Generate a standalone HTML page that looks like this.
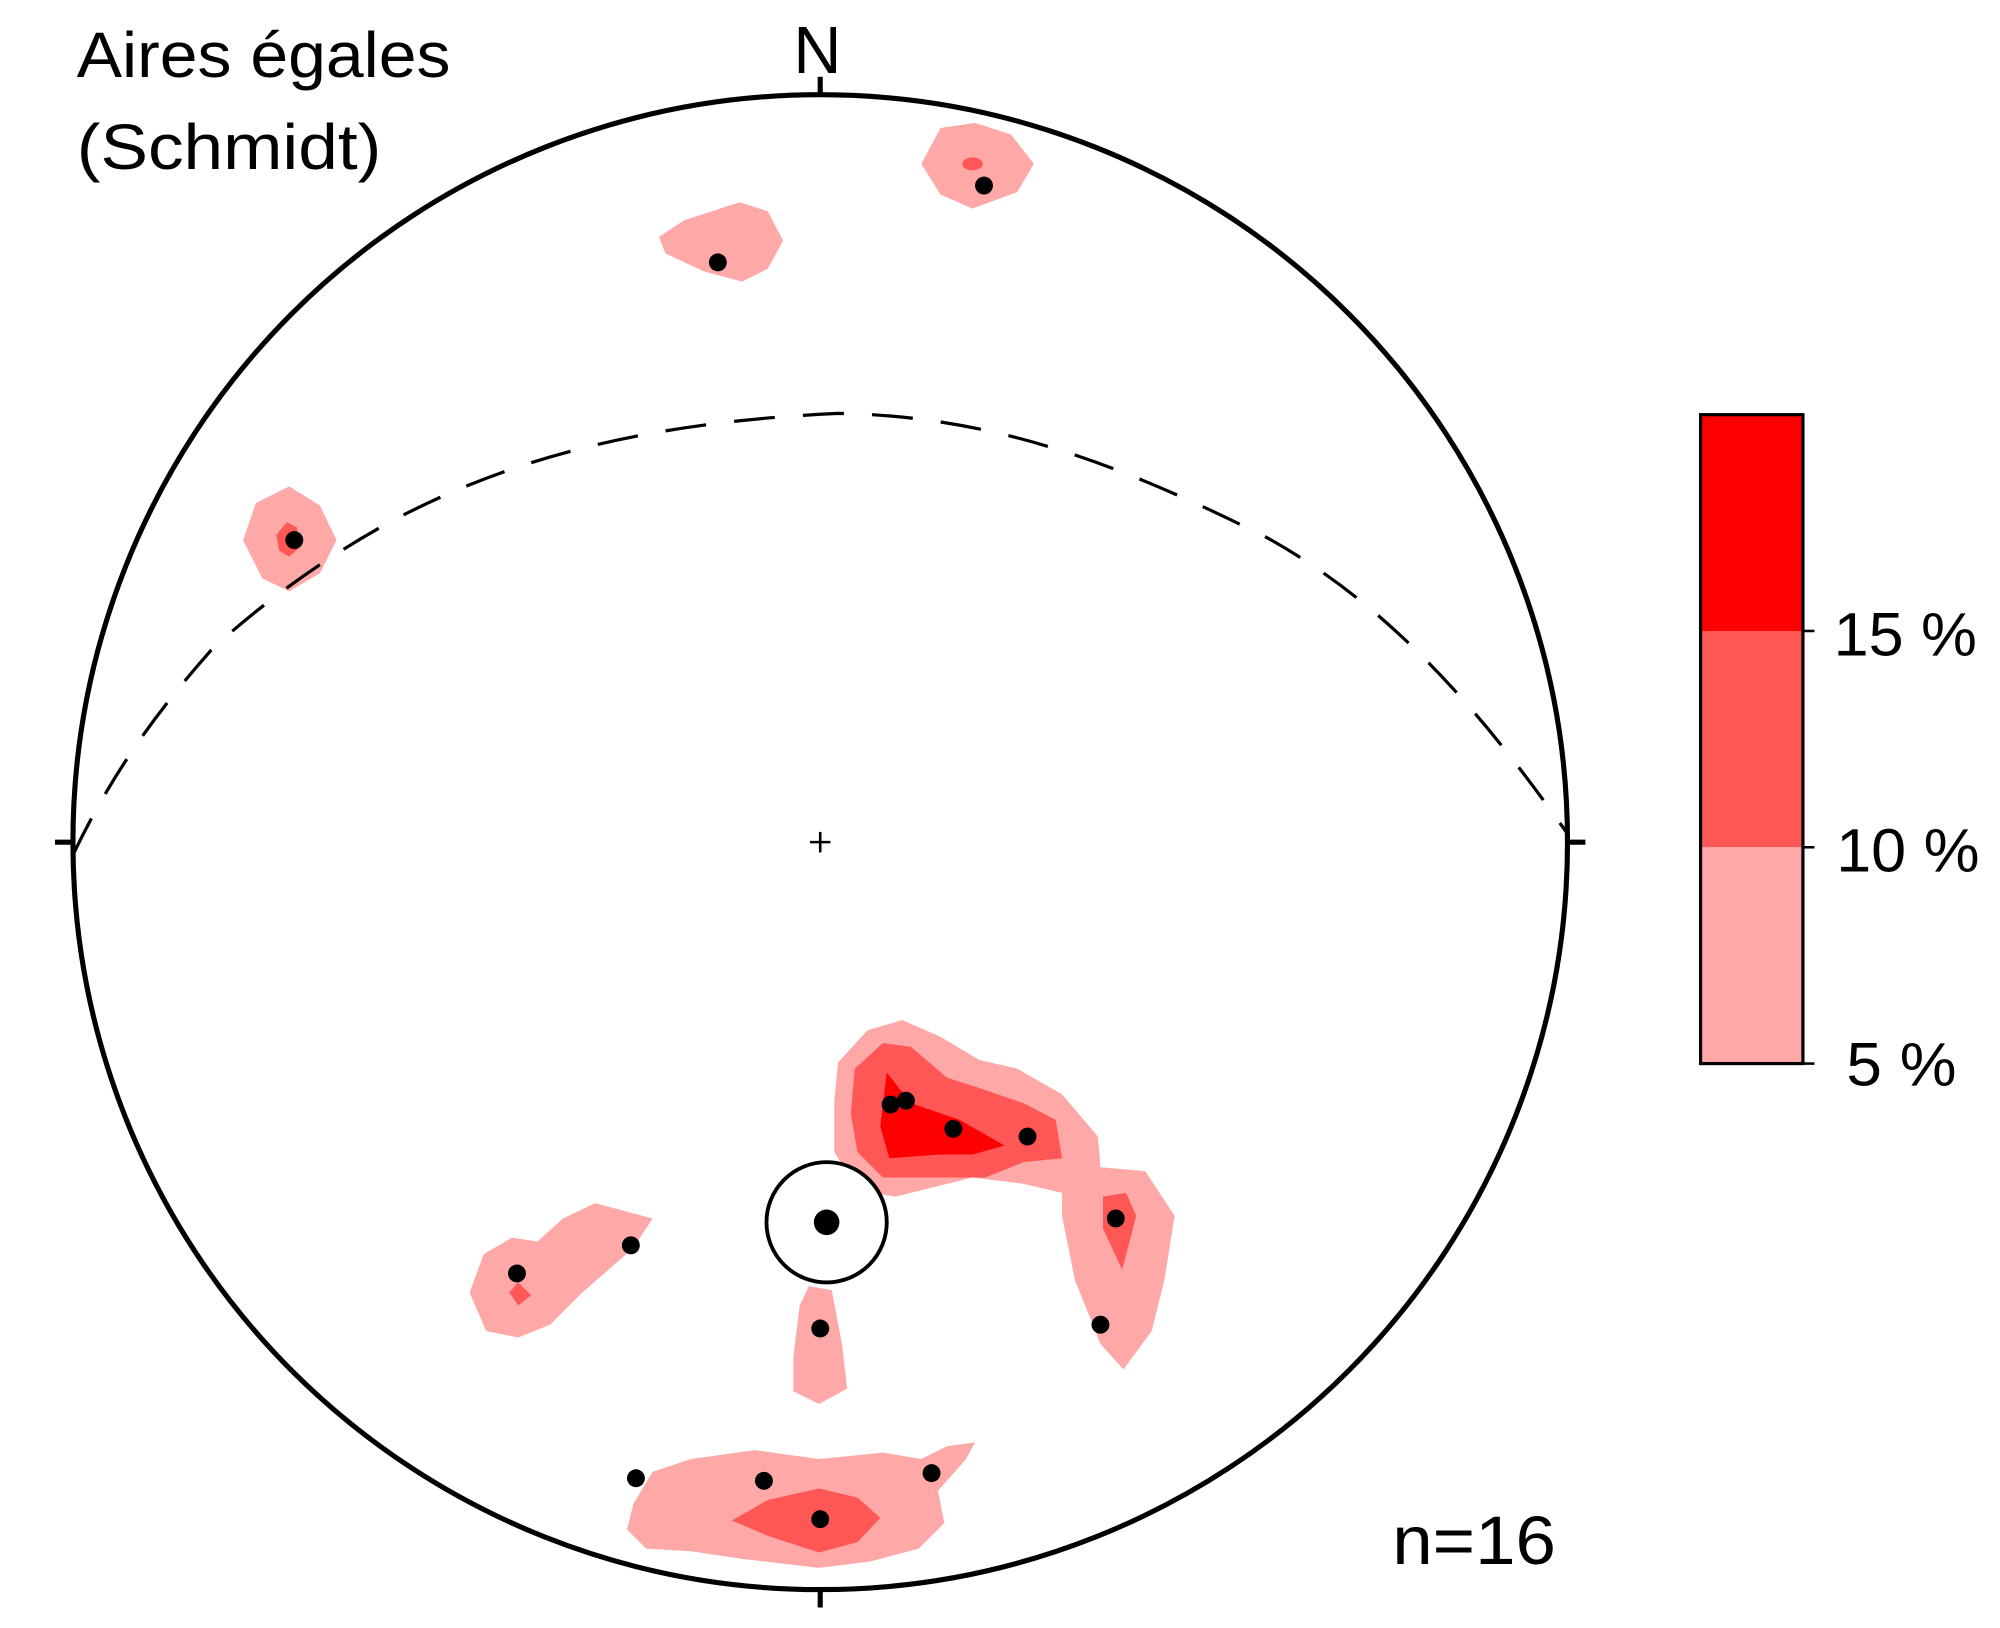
<!DOCTYPE html>
<html><head><meta charset="utf-8"><style>
html,body{margin:0;padding:0;background:#fff;}
svg{display:block;}
text{font-family:"Liberation Sans","DejaVu Sans",sans-serif;fill:#000;}
</style></head><body>
<svg width="2000" height="1628" viewBox="0 0 1563 1272" preserveAspectRatio="none" xmlns="http://www.w3.org/2000/svg">
<rect width="1563" height="1272" fill="#fff"/>
<g stroke="none">
<polygon fill="#ffa8a8" points="720,128 735,100 762,96 790,105 808,128 795,150 760,163 735,152"/>
<ellipse cx="760" cy="128" rx="8" ry="5" fill="#ff5656"/>
<polygon fill="#ffa8a8" points="515,185 535,172 578,158 600,165 612,188 600,210 580,220 550,212 520,198"/>
<polygon fill="#ffa8a8" points="190,422 200,393 226,380 250,395 263,422 250,448 226,462 205,452"/>
<polygon fill="#ff5656" points="216,418 224,408 232,412 234,428 226,435 218,430"/>
<polygon fill="#ffa8a8" points="655,830 678,805 705,797 735,810 765,828 795,835 830,855 858,888 860,912 895,915 918,950 910,1000 900,1040 878,1070 860,1050 840,1000 830,950 830,932 800,925 760,920 700,935 670,930 652,900 652,860"/>
<polygon fill="#ff5656" points="668,835 690,815 712,818 740,842 765,850 800,862 825,875 830,905 800,908 770,920 720,920 690,920 670,900 665,870"/>
<polygon fill="#ff0000" points="693,838 712,862 750,875 785,895 760,902 735,902 695,905 688,880"/>
<polygon fill="#ff5656" points="862,935 880,932 888,950 877,992 862,960"/>
<polygon fill="#ffa8a8" points="367,1010 378,980 400,967 420,970 440,952 465,940 510,952 495,975 455,1010 430,1035 405,1045 380,1040"/>
<polygon fill="#ff5656" points="398,1010 405,1002 415,1012 405,1020"/>
<polygon fill="#ffa8a8" points="625,1020 632,1005 650,1008 658,1050 662,1085 640,1097 620,1087 620,1060"/>
<polygon fill="#ffa8a8" points="495,1175 510,1150 540,1140 590,1133 640,1140 690,1135 720,1140 740,1130 762,1127 755,1140 733,1165 738,1190 718,1210 680,1220 640,1225 580,1218 540,1212 505,1210 490,1195"/>
<polygon fill="#ff5656" points="572,1188 600,1172 640,1163 670,1170 688,1186 670,1205 640,1213 600,1200"/>
</g>
<circle cx="641" cy="658" r="584" fill="none" stroke="#000" stroke-width="4"/>
<g stroke="#000" stroke-width="4">
<line x1="641" y1="60" x2="641" y2="75"/>
<line x1="641" y1="1241" x2="641" y2="1256"/>
<line x1="43" y1="658" x2="57" y2="658"/>
<line x1="1225" y1="658" x2="1239" y2="658"/>
</g>
<g stroke="#000" stroke-width="2">
<line x1="633" y1="658" x2="649" y2="658"/>
<line x1="641" y1="650" x2="641" y2="666"/>
</g>
<path d="M57,668 C80,620 110,570 165,508 C200,475 260,430 320,400 C400,360 500,330 655,323 C780,325 880,365 990,420 C1080,470 1150,545 1224,650" fill="none" stroke="#000" stroke-width="2.5" stroke-dasharray="32,22"/>
<circle cx="646" cy="955" r="47" fill="#fff" stroke="#000" stroke-width="3"/>
<circle cx="646" cy="955" r="10" fill="#000"/>
<g fill="#000">
<circle cx="769" cy="145" r="7"/>
<circle cx="561" cy="205" r="7"/>
<circle cx="230" cy="422" r="7"/>
<circle cx="696" cy="863" r="7"/>
<circle cx="708" cy="860" r="7"/>
<circle cx="745" cy="882" r="7"/>
<circle cx="803" cy="888" r="7"/>
<circle cx="872" cy="952" r="7"/>
<circle cx="860" cy="1035" r="7"/>
<circle cx="404" cy="995" r="7"/>
<circle cx="493" cy="973" r="7"/>
<circle cx="641" cy="1038" r="7"/>
<circle cx="497" cy="1155" r="7"/>
<circle cx="597" cy="1157" r="7"/>
<circle cx="728" cy="1151" r="7"/>
<circle cx="641" cy="1187" r="7"/>
</g>
<rect x="1329" y="324" width="80" height="169" fill="#ff0000"/>
<rect x="1329" y="493" width="80" height="169" fill="#ff5656"/>
<rect x="1329" y="662" width="80" height="169" fill="#ffa8a8"/>
<rect x="1329" y="324" width="80" height="507" fill="none" stroke="#000" stroke-width="2.5"/>
<g stroke="#000" stroke-width="2">
<line x1="1409" y1="493" x2="1418" y2="493"/>
<line x1="1409" y1="662" x2="1418" y2="662"/>
<line x1="1409" y1="831" x2="1418" y2="831"/>
</g>
<text x="1433" y="512" font-size="48" textLength="112" lengthAdjust="spacingAndGlyphs">15 %</text>
<text x="1435" y="681" font-size="48" textLength="112" lengthAdjust="spacingAndGlyphs">10 %</text>
<text x="1443" y="848" font-size="48" textLength="86" lengthAdjust="spacingAndGlyphs">5 %</text>
<text x="60" y="60" font-size="50" textLength="292" lengthAdjust="spacingAndGlyphs">Aires égales</text>
<text x="60" y="132" font-size="50" textLength="238" lengthAdjust="spacingAndGlyphs">(Schmidt)</text>
<text x="620" y="57" font-size="52">N</text>
<text x="1088" y="1222" font-size="54" textLength="128" lengthAdjust="spacingAndGlyphs">n=16</text>
</svg>
</body></html>
